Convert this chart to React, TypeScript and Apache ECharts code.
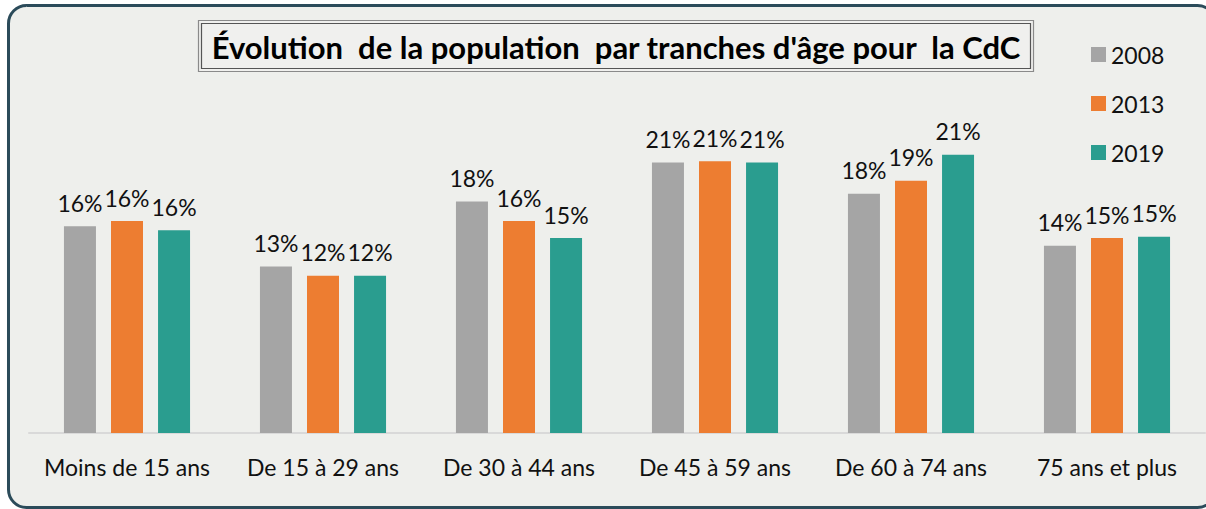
import React, { useEffect, useRef } from "react";
import * as echarts from "echarts";

const categories = ["Moins de 15 ans", "De 15 à 29 ans", "De 30 à 44 ans", "De 45 à 59 ans", "De 60 à 74 ans", "75 ans et plus"];
const seriesNames = ["2008", "2013", "2019"];
const values2008 = [15.9, 12.8, 17.8, 20.8, 18.4, 14.4];
const values2013 = [16.3, 12.1, 16.3, 20.9, 19.4, 15.0];
const values2019 = [15.6, 12.1, 15.0, 20.8, 21.4, 15.1];
const colors = ["#a5a5a5", "#ed7d31", "#2a9d8f"];
const titleText = "Évolution  de la population  par tranches d'âge pour  la CdC";

const FONT = "Lato, 'Noto Sans', sans-serif";

export default function App() {
  const ref = useRef<HTMLDivElement>(null);
  useEffect(() => {
    if (!ref.current) return;
    const chart = echarts.init(ref.current, undefined, { renderer: "svg" });
    const allValues = [values2008, values2013, values2019];
    chart.setOption({
      animation: false,
      backgroundColor: "#ffffff",
      textStyle: { fontFamily: FONT },
      graphic: [
        {
          type: "rect",
          z: -10,
          shape: { x: 8.5, y: 5.5, width: 1207, height: 502, r: 18 },
          style: { fill: "#eeefec", stroke: "#2b4b5a", lineWidth: 3 },
        },
        {
          type: "rect",
          z: -5,
          shape: { x: 198.5, y: 20.5, width: 835, height: 51 },
          style: { fill: "#f0f0ee", stroke: "#8a8a8a", lineWidth: 1.2 },
        },
        {
          type: "rect",
          z: -4,
          shape: { x: 201.5, y: 23.5, width: 829, height: 45 },
          style: { fill: "none", stroke: "#555555", lineWidth: 1.2 },
        },
        {
          type: "text",
          z: 10,
          x: 616,
          y: 47,
          style: {
            text: titleText,
            fontFamily: FONT,
            fontWeight: "bold",
            fontSize: 31,
            fill: "#000000",
            align: "center",
            verticalAlign: "middle",
          },
        },
      ],
      legend: {
        orient: "vertical",
        left: 1086,
        top: 38,
        itemWidth: 15,
        itemHeight: 15,
        itemGap: 26,
        icon: "rect",
        data: seriesNames,
        textStyle: { fontFamily: FONT, fontSize: 23, color: "#111111", padding: [0, 0, 0, 0] },
      },
      grid: { left: 29, right: 1, top: 108, bottom: 76, containLabel: false },
      xAxis: {
        type: "category",
        data: categories,
        axisLine: { show: true, lineStyle: { color: "#d9d9d9", width: 2 } },
        axisTick: { show: false },
        axisLabel: { fontFamily: FONT, fontSize: 23, color: "#111111", margin: 22, interval: 0 },
      },
      yAxis: {
        type: "value",
        min: 0,
        max: 25,
        show: false,
        splitLine: { show: false },
      },
      series: seriesNames.map((name, i) => ({
        name,
        type: "bar",
        data: allValues[i],
        barWidth: 32,
        barGap: "47%",
        itemStyle: { color: colors[i] },
        label: {
          show: true,
          position: "top",
          distance: 12,
          fontFamily: FONT,
          fontSize: 23,
          color: "#111111",
          formatter: (p: any) => Math.round(p.value) + "%",
        },
      })),
    });
    return () => chart.dispose();
  }, []);
  return (
    <div
      ref={ref}
      style={{ position: "absolute", left: 0, top: 0, width: 1206, height: 509 }}
    />
  );
}
